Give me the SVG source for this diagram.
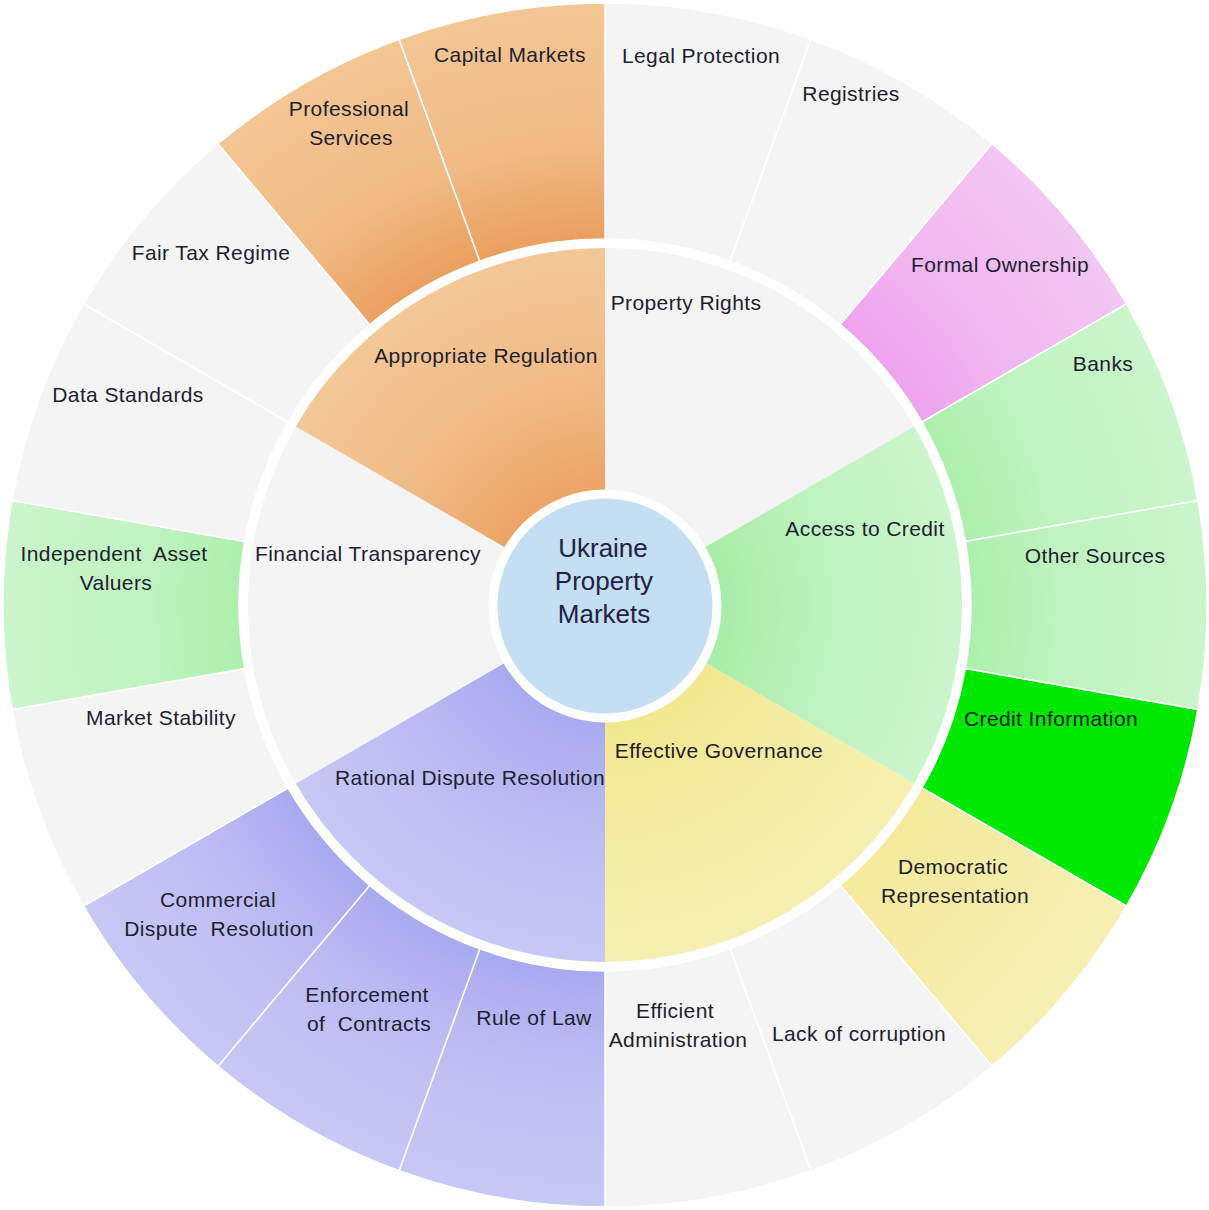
<svg xmlns="http://www.w3.org/2000/svg" width="1209" height="1210" viewBox="0 0 1209 1210">
  <defs>
    <!-- radial shading centred on the hub: inner ring 0.18-0.59, outer ring 0.61-1 -->
    <radialGradient id="gOrange" gradientUnits="userSpaceOnUse" cx="605" cy="605" r="602">
      <stop offset="0.18" stop-color="#eca264"/>
      <stop offset="0.36" stop-color="#f0ba84"/>
      <stop offset="0.595" stop-color="#f3c898"/>
      <stop offset="0.605" stop-color="#eb9e5e"/>
      <stop offset="0.76" stop-color="#f0ba84"/>
      <stop offset="1" stop-color="#f3c794"/>
    </radialGradient>
    <radialGradient id="gLavender" gradientUnits="userSpaceOnUse" cx="605" cy="605" r="602">
      <stop offset="0.18" stop-color="#a8a8f0"/>
      <stop offset="0.38" stop-color="#bcbcf3"/>
      <stop offset="0.595" stop-color="#c8c8f5"/>
      <stop offset="0.605" stop-color="#a8a8f0"/>
      <stop offset="0.76" stop-color="#bcbcf3"/>
      <stop offset="1" stop-color="#c8c8f5"/>
    </radialGradient>
    <radialGradient id="gGreen" gradientUnits="userSpaceOnUse" cx="605" cy="605" r="602">
      <stop offset="0.18" stop-color="#a6eca6"/>
      <stop offset="0.36" stop-color="#bdf2bd"/>
      <stop offset="0.595" stop-color="#cbf5cb"/>
      <stop offset="0.605" stop-color="#acefac"/>
      <stop offset="0.76" stop-color="#c0f3c0"/>
      <stop offset="1" stop-color="#cbf5cb"/>
    </radialGradient>
    <radialGradient id="gPink" gradientUnits="userSpaceOnUse" cx="605" cy="605" r="602">
      <stop offset="0.605" stop-color="#eea2ee"/>
      <stop offset="0.76" stop-color="#f0b6f0"/>
      <stop offset="1" stop-color="#f3c6f3"/>
    </radialGradient>
    <radialGradient id="gYellow" gradientUnits="userSpaceOnUse" cx="605" cy="605" r="602">
      <stop offset="0.18" stop-color="#f2e78e"/>
      <stop offset="0.36" stop-color="#f4eca2"/>
      <stop offset="0.595" stop-color="#f6f0b0"/>
      <stop offset="0.605" stop-color="#f3ea9c"/>
      <stop offset="1" stop-color="#f6f0b4"/>
    </radialGradient>
    <style>
      .lbl { font-family: "Liberation Sans", Arial, sans-serif; font-size: 21px; letter-spacing: 0.4px; fill: #1e1e30; text-anchor: middle; }
      .hub { font-family: "Liberation Sans", Arial, sans-serif; font-size: 26px; fill: #222240; text-anchor: middle; }
      .outer { stroke: #ffffff; stroke-width: 1.5; }
      .gray { fill: #f4f4f5; }
      .orange { fill: url(#gOrange); }
      .lav { fill: url(#gLavender); }
      .green { fill: url(#gGreen); }
      .pink { fill: url(#gPink); }
      .yellow { fill: url(#gYellow); }
      .lime { fill: #00e800; }
    </style>
  </defs>

  <rect width="1209" height="1210" fill="#ffffff"/>

  <!-- inner ring: six themes, 60 degrees each -->
  <g id="node-property-rights">
    <path class="gray" d="M605 605 L605 248 A357 357 0 0 1 914.2 426.5 Z"/>
    <text class="lbl" x="686" y="310">Property Rights</text>
  </g>
  <g id="node-access-to-credit">
    <path class="green" d="M605 605 L914.2 426.5 A357 357 0 0 1 914.2 783.5 Z"/>
    <text class="lbl" x="865" y="536">Access to Credit</text>
  </g>
  <g id="node-effective-governance">
    <path class="yellow" d="M605 605 L914.2 783.5 A357 357 0 0 1 605 962 Z"/>
    <text class="lbl" x="719" y="758">Effective Governance</text>
  </g>
  <g id="node-rational-dispute-resolution">
    <path class="lav" d="M605 605 L605 962 A357 357 0 0 1 295.8 783.5 Z"/>
    <text class="lbl" x="470" y="785">Rational Dispute Resolution</text>
  </g>
  <g id="node-financial-transparency">
    <path class="gray" d="M605 605 L295.8 783.5 A357 357 0 0 1 295.8 426.5 Z"/>
    <text class="lbl" x="368" y="561">Financial Transparency</text>
  </g>
  <g id="node-appropriate-regulation">
    <path class="orange" d="M605 605 L295.8 426.5 A357 357 0 0 1 605 248 Z"/>
    <text class="lbl" x="486" y="363">Appropriate Regulation</text>
  </g>

  <!-- outer ring: eighteen factors, 20 degrees each -->
  <g id="node-legal-protection">
    <path class="gray outer" d="M605 3 A602 602 0 0 1 810.9 39.3 L730.2 261.1 A366 366 0 0 0 605 239 Z"/>
    <text class="lbl" x="701" y="63">Legal Protection</text>
  </g>
  <g id="node-registries">
    <path class="gray outer" d="M810.9 39.3 A602 602 0 0 1 992 143.8 L840.3 324.6 A366 366 0 0 0 730.2 261.1 Z"/>
    <text class="lbl" x="851" y="101">Registries</text>
  </g>
  <g id="node-formal-ownership">
    <path class="pink outer" d="M992 143.8 A602 602 0 0 1 1126.4 304 L922 422 A366 366 0 0 0 840.3 324.6 Z"/>
    <text class="lbl" x="1000" y="272">Formal Ownership</text>
  </g>
  <g id="node-banks">
    <path class="green outer" d="M1126.4 304 A602 602 0 0 1 1197.9 500.5 L965.4 541.4 A366 366 0 0 0 922 422 Z"/>
    <text class="lbl" x="1103" y="371">Banks</text>
  </g>
  <g id="node-other-sources">
    <path class="green outer" d="M1197.9 500.5 A602 602 0 0 1 1197.9 709.5 L965.4 668.6 A366 366 0 0 0 965.4 541.4 Z"/>
    <text class="lbl" x="1095" y="563">Other Sources</text>
  </g>
  <g id="node-credit-information">
    <path class="lime outer" d="M1197.9 709.5 A602 602 0 0 1 1126.4 906 L922 788 A366 366 0 0 0 965.4 668.6 Z"/>
    <text class="lbl" x="1051" y="726">Credit Information</text>
  </g>
  <g id="node-democratic-representation">
    <path class="yellow outer" d="M1126.4 906 A602 602 0 0 1 992 1066.2 L840.3 885.4 A366 366 0 0 0 922 788 Z"/>
    <text class="lbl" x="953" y="874">Democratic</text>
    <text class="lbl" x="955" y="903">Representation</text>
  </g>
  <g id="node-lack-of-corruption">
    <path class="gray outer" d="M992 1066.2 A602 602 0 0 1 810.9 1170.7 L730.2 948.9 A366 366 0 0 0 840.3 885.4 Z"/>
    <text class="lbl" x="859" y="1041">Lack of corruption</text>
  </g>
  <g id="node-efficient-administration">
    <path class="gray outer" d="M810.9 1170.7 A602 602 0 0 1 605 1207 L605 971 A366 366 0 0 0 730.2 948.9 Z"/>
    <text class="lbl" x="675" y="1018">Efficient</text>
    <text class="lbl" x="678" y="1047">Administration</text>
  </g>
  <g id="node-rule-of-law">
    <path class="lav outer" d="M605 1207 A602 602 0 0 1 399.1 1170.7 L479.8 948.9 A366 366 0 0 0 605 971 Z"/>
    <text class="lbl" x="534" y="1025">Rule of Law</text>
  </g>
  <g id="node-enforcement-of-contracts">
    <path class="lav outer" d="M399.1 1170.7 A602 602 0 0 1 218 1066.2 L369.7 885.4 A366 366 0 0 0 479.8 948.9 Z"/>
    <text class="lbl" x="367" y="1002">Enforcement</text>
    <text class="lbl" x="369" y="1031" xml:space="preserve">of  Contracts</text>
  </g>
  <g id="node-commercial-dispute-resolution">
    <path class="lav outer" d="M218 1066.2 A602 602 0 0 1 83.6 906 L288 788 A366 366 0 0 0 369.7 885.4 Z"/>
    <text class="lbl" x="218" y="907">Commercial</text>
    <text class="lbl" x="219" y="936" xml:space="preserve">Dispute  Resolution</text>
  </g>
  <g id="node-market-stability">
    <path class="gray outer" d="M83.6 906 A602 602 0 0 1 12.1 709.5 L244.6 668.6 A366 366 0 0 0 288 788 Z"/>
    <text class="lbl" x="161" y="725">Market Stability</text>
  </g>
  <g id="node-independent-asset-valuers">
    <path class="green outer" d="M12.1 709.5 A602 602 0 0 1 12.1 500.5 L244.6 541.4 A366 366 0 0 0 244.6 668.6 Z"/>
    <text class="lbl" x="114" y="561" xml:space="preserve">Independent  Asset</text>
    <text class="lbl" x="116" y="590">Valuers</text>
  </g>
  <g id="node-data-standards">
    <path class="gray outer" d="M12.1 500.5 A602 602 0 0 1 83.6 304 L288 422 A366 366 0 0 0 244.6 541.4 Z"/>
    <text class="lbl" x="128" y="402">Data Standards</text>
  </g>
  <g id="node-fair-tax-regime">
    <path class="gray outer" d="M83.6 304 A602 602 0 0 1 218 143.8 L369.7 324.6 A366 366 0 0 0 288 422 Z"/>
    <text class="lbl" x="211" y="260">Fair Tax Regime</text>
  </g>
  <g id="node-professional-services">
    <path class="orange outer" d="M218 143.8 A602 602 0 0 1 399.1 39.3 L479.8 261.1 A366 366 0 0 0 369.7 324.6 Z"/>
    <text class="lbl" x="349" y="116">Professional</text>
    <text class="lbl" x="351" y="145">Services</text>
  </g>
  <g id="node-capital-markets">
    <path class="orange outer" d="M399.1 39.3 A602 602 0 0 1 605 3 L605 239 A366 366 0 0 0 479.8 261.1 Z"/>
    <text class="lbl" x="510" y="62">Capital Markets</text>
  </g>

  <!-- dividers -->
  <g id="connectors">
    <line x1="965.4" y1="668.6" x2="1197.9" y2="709.5" stroke="#ffffff" stroke-width="1.5" stroke-dasharray="5 3"/>
  </g>

  <!-- hub -->
  <g id="node-ukraine-property-markets">
    <circle cx="605" cy="606" r="112" fill="#c4def4" stroke="#ffffff" stroke-width="9"/>
    <text class="hub" x="603" y="557">Ukraine</text>
    <text class="hub" x="604" y="590">Property</text>
    <text class="hub" x="604" y="623">Markets</text>
  </g>
</svg>
